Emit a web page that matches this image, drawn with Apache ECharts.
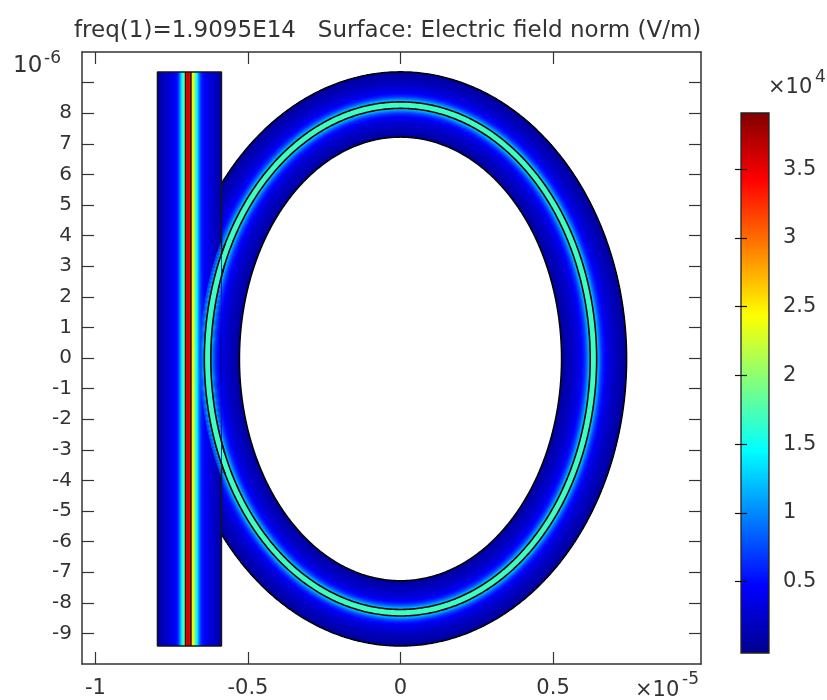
<!DOCTYPE html>
<html>
<head>
<meta charset="utf-8">
<style>html,body{margin:0;padding:0;background:#fff}#c{width:827px;height:700px}</style>
<script src="https://cdn.jsdelivr.net/npm/echarts@6/dist/echarts.min.js"></script>
</head>
<body>
<div id="c"></div>
<script>
// Tick labels
const xTicks = [-1, -0.5, 0, 0.5];
const yLabelTicks = [-9,-8,-7,-6,-5,-4,-3,-2,-1,0,1,2,3,4,5,6,7,8];
const yTicks = [-9,-8,-7,-6,-5,-4,-3,-2,-1,0,1,2,3,4,5,6,7,8,9];
const barTicks = [0.5, 1, 1.5, 2, 2.5, 3, 3.5];
const jet = ['#00008f','#0000ff','#007fff','#00ffff','#7fff7f','#ffff00','#ff7f00','#ff0000','#800000'];
const fieldMin = 0, fieldMax = 3.91;

// Straight waveguide: strip edges across x (1e-5 m) and field (1e4 V/m) per strip
const guideEdges = [-.7967,-.7902,-.7836,-.7770,-.7705,-.7639,-.7574,-.7508,-.7443,-.7377,-.7311,-.7279,-.7246,-.7213,-.7180,-.7148,-.7115,-.7082,-.7049,-.7016,-.6984,-.6951,-.6918,-.6885,-.6869,-.6836,-.6803,-.6770,-.6738,-.6705,-.6672,-.6639,-.6607,-.6574,-.6541,-.6492,-.6426,-.6361,-.6295,-.6230,-.6164,-.6098,-.6033,-.5967,-.5869];
const guideField = [.1,.14,.18,.22,.26,.3,.34,.39,.45,.52,.62,.78,1.0,1.25,1.45,1.6,1.9,2.3,3.3,3.5,3.7,3.6,3.4,3.3,2.65,2.5,2.35,2.05,1.75,1.5,1.35,1.1,.9,.75,.62,.52,.45,.4,.35,.3,.26,.22,.18,.14];
const guideTop = 9.35, guideBottom = -9.41;
const guideContours = [-.7049, -.6869];
const guideRightGap = [3.4, -3.46]; // outline hidden behind the ring between these y

// Elliptical ring: semi-axes (x in 1e-5 m, y in 1e-6 m), strip fractions inner->outer, field per strip
const ringCenterY = -0.03;
const ringInner = [0.528, 7.25];
const ringOuter = [0.741, 9.38];
const ringEdges = [0,.04,.08,.12,.16,.20,.24,.27,.30,.32,.34,.355,.37,.385,.40,.415,.43,.44,.54,.55,.565,.58,.595,.61,.625,.64,.66,.68,.71,.74,.78,.82,.86,.90,.95,1];
const ringField = [.08,.12,.16,.2,.25,.3,.35,.41,.48,.55,.62,.7,.8,.92,1.05,1.18,1.32,1.7,1.32,1.18,1.05,.92,.8,.7,.62,.55,.48,.41,.35,.3,.25,.2,.16,.12,.08];
const ringContours = [.44, .54];
const ringOverlayRange = [.28, .62];

const guideRight = guideEdges[guideEdges.length - 1], guideLeft = guideEdges[0];

function ringPoint(t, deg) {
  const a = ringInner[0] + t * (ringOuter[0] - ringInner[0]);
  const b = ringInner[1] + t * (ringOuter[1] - ringInner[1]);
  const r = deg * Math.PI / 180;
  return [a * Math.cos(r), ringCenterY + b * Math.sin(r)];
}
function arc(t, limit) {
  const pts = [];
  for (let d = 0; d <= 360; d += 0.5) {
    const p = ringPoint(t, d);
    if (limit === undefined || p[0] <= limit) pts.push(p);
  }
  return pts;
}
// Strips are painted inner to outer; each reaches the far edge and the next one covers it, so no seams show.
function ringStripItem(overlay) {
  return function (params, api) {
    const i = params.dataIndex, t0 = ringEdges[i], t1 = ringEdges[i + 1];
    if (overlay && (t0 < ringOverlayRange[0] || t1 > ringOverlayRange[1])) return null;
    const limit = overlay ? guideRight : undefined;
    const far = overlay ? t1 : 1;
    const pts = arc(far, limit).concat(arc(t0, limit).reverse()).map(p => api.coord(p));
    return { type: 'polygon', shape: { points: pts }, style: { fill: api.visual('color'), lineWidth: 0 } };
  };
}
function ringLineItem(overlay) {
  return function (params, api) {
    const pts = arc(api.value(0), overlay ? guideRight + 0.012 : undefined).map(p => api.coord(p));
    if (!pts.length) return null;
    return { type: 'polyline', shape: { points: pts }, style: { fill: null, stroke: '#050505', lineWidth: 1.6 } };
  };
}
function guideStripItem(params, api) {
  const i = params.dataIndex;
  const a = api.coord([guideEdges[i], guideTop]), b = api.coord([guideRight, guideBottom]);
  return { type: 'rect', shape: { x: a[0], y: a[1], width: b[0] - a[0], height: b[1] - a[1] }, style: { fill: api.visual('color'), lineWidth: 0 } };
}
function barItem(params, api) {
  const a = api.coord([0, api.value(0)]), b = api.coord([1, api.value(1)]);
  const stops = jet.map((c, i) => ({ offset: 1 - i / (jet.length - 1), color: c }));
  return { type: 'rect', shape: { x: a[0], y: a[1], width: b[0] - a[0], height: b[1] - a[1] },
    style: { fill: new echarts.graphic.LinearGradient(0, 0, 0, 1, stops), stroke: '#222', lineWidth: 1.3 } };
}

const ink = '#333';
const font = 'DejaVu Sans';
const ringData = ringField.map((v, i) => [i, v]);
const guideData = guideField.map((v, i) => [i, v]);
function guideLine(name, pts) {
  return { type: 'line', name, data: pts, showSymbol: false, silent: true, z: 5, animation: false,
    lineStyle: { color: '#151515', width: 1.5 }, xAxisIndex: 0, yAxisIndex: 0 };
}
const fieldAxis = { xAxisIndex: 0, yAxisIndex: 0, animation: false, silent: true };

const chart = echarts.init(document.getElementById('c'), null, { renderer: 'canvas' });
chart.setOption({
  animation: false,
  backgroundColor: '#fff',
  title: { text: 'freq(1)=1.9095E14   Surface: Electric field norm (V/m)', left: 69, top: 15,
    textStyle: { fontFamily: font, fontSize: 23, fontWeight: 'normal', color: ink } },
  grid: [
    { left: 82, top: 52, width: 619, height: 612 },
    { left: 741, top: 113, width: 28, height: 540 }
  ],
  xAxis: [
    { type: 'value', gridIndex: 0, position: 'bottom', min: -1.044, max: 0.985,
      axisLine: { onZero: false, lineStyle: { color: ink, width: 1.5 } }, splitLine: { show: false },
      axisTick: { inside: true, length: 12, lineStyle: { color: ink, width: 1.2 }, customValues: xTicks },
      axisLabel: { customValues: xTicks, margin: 14, color: ink, fontFamily: font, fontSize: 21 } },
    { type: 'value', gridIndex: 0, position: 'top', min: -1.044, max: 0.985,
      axisLine: { onZero: false, lineStyle: { color: ink, width: 1.5 } }, splitLine: { show: false },
      axisTick: { inside: true, length: 12, lineStyle: { color: ink, width: 1.2 }, customValues: xTicks },
      axisLabel: { show: false } },
    { type: 'value', gridIndex: 1, min: 0, max: 1, show: false }
  ],
  yAxis: [
    { type: 'value', gridIndex: 0, position: 'left', min: -10, max: 10,
      axisLine: { onZero: false, lineStyle: { color: ink, width: 1.5 } }, splitLine: { show: false },
      axisTick: { inside: true, length: 12, lineStyle: { color: ink, width: 1.2 }, customValues: yTicks },
      axisLabel: { customValues: yLabelTicks, margin: 10, color: ink, fontFamily: font, fontSize: 20 } },
    { type: 'value', gridIndex: 0, position: 'right', min: -10, max: 10,
      axisLine: { onZero: false, lineStyle: { color: ink, width: 1.5 } }, splitLine: { show: false },
      axisTick: { inside: true, length: 12, lineStyle: { color: ink, width: 1.2 }, customValues: yTicks },
      axisLabel: { show: false } },
    { type: 'value', gridIndex: 1, position: 'right', min: -0.02, max: 3.91, z: 6,
      axisLine: { show: false }, splitLine: { show: false },
      axisTick: { inside: true, length: 6, lineStyle: { color: '#111', width: 1.2 }, customValues: barTicks },
      axisLabel: { customValues: barTicks, margin: 14, color: ink, fontFamily: font, fontSize: 21 } },
    { type: 'value', gridIndex: 1, position: 'left', min: -0.02, max: 3.91, z: 6,
      axisLine: { show: false }, splitLine: { show: false },
      axisTick: { inside: true, length: 6, lineStyle: { color: '#111', width: 1.2 }, customValues: barTicks },
      axisLabel: { show: false } }
  ],
  visualMap: { show: false, type: 'continuous', min: fieldMin, max: fieldMax, dimension: 1,
    seriesIndex: [0, 3, 8], inRange: { color: jet } },
  series: [
    Object.assign({ type: 'custom', name: 'ring field', data: ringData, renderItem: ringStripItem(false), z: 2 }, fieldAxis),
    Object.assign({ type: 'custom', name: 'ring rim', data: [[0, 0], [1, 0]], renderItem: ringLineItem(false), z: 2 }, fieldAxis),
    Object.assign({ type: 'custom', name: 'ring contour', data: ringContours.map(t => [t, 0]), renderItem: ringLineItem(false), z: 2 }, fieldAxis),
    Object.assign({ type: 'custom', name: 'guide field', data: guideData, renderItem: guideStripItem, z: 3 }, fieldAxis),
    guideLine('guide contour 1', [[guideContours[0], guideTop], [guideContours[0], guideBottom]]),
    guideLine('guide contour 2', [[guideContours[1], guideTop], [guideContours[1], guideBottom]]),
    guideLine('guide outline', [[guideRight, guideRightGap[0]], [guideRight, guideTop], [guideLeft, guideTop], [guideLeft, guideBottom], [guideRight, guideBottom], [guideRight, guideRightGap[1]]]),
    { type: 'custom', name: 'colour bar', xAxisIndex: 2, yAxisIndex: 2, data: [[3.91, -0.02]], renderItem: barItem, z: 2, silent: true, animation: false },
    Object.assign({ type: 'custom', name: 'ring field over guide', data: ringData, renderItem: ringStripItem(true), z: 7 }, fieldAxis),
    Object.assign({ type: 'custom', name: 'ring contour over guide', data: ringContours.map(t => [t, 0]), renderItem: ringLineItem(true), z: 8 }, fieldAxis)
  ],
  graphic: [
    { type: 'text', left: 13, top: 55, style: { text: '10', fontFamily: font, fontSize: 23, fill: ink } },
    { type: 'text', left: 44, top: 50, style: { text: '-6', fontFamily: font, fontSize: 17, fill: ink } },
    { type: 'text', left: 768, top: 77, style: { text: '×10', fontFamily: font, fontSize: 21, fill: ink } },
    { type: 'text', left: 815, top: 69, style: { text: '4', fontFamily: font, fontSize: 17, fill: ink } },
    { type: 'text', left: 635, top: 680, style: { text: '×10', fontFamily: font, fontSize: 21, fill: ink } },
    { type: 'text', left: 682, top: 671, style: { text: '-5', fontFamily: font, fontSize: 17, fill: ink } }
  ]
});
</script>
</body>
</html>
